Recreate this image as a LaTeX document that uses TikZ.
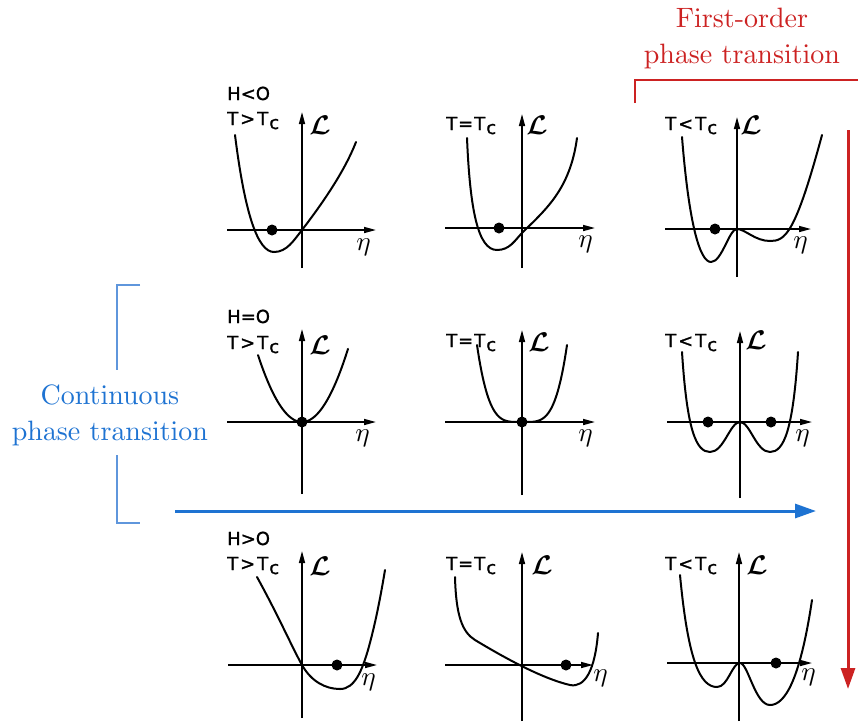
\documentclass[tikz,border=0pt]{standalone}
\usepackage{fontspec}
\newfontfamily\labfont[FakeBold=1.2]{DejaVu Sans}
\usetikzlibrary{arrows.meta}
\font\bigrm=cmr10 at 28pt
\font\calLfont=cmbsy10 at 27pt
\font\etafont=cmmi10 at 27pt
\definecolor{redc}{RGB}{204,34,34}
\definecolor{bluec}{RGB}{30,115,210}
\definecolor{bluel}{RGB}{95,150,220}
\newcommand\Tc{T\kern1pt\raisebox{-4pt}{c}}
\newcommand\Lcal{{\calLfont L}}
\newcommand\etasign{{\etafont\char"11}}
\tikzset{
  axis/.style={line width=1.5pt, -{Triangle[length=12pt,width=6pt]}},
  curve/.style={line width=2pt, line join=round, line cap=round},
  dot/.style={circle, fill=black, inner sep=0pt, minimum size=11pt},
  lab/.style={font=\labfont\fontsize{18}{18}\selectfont, inner sep=0pt, anchor=base west},
  Lsym/.style={inner sep=0pt},
  etasym/.style={inner sep=0pt},
  bigtxt/.style={font={\bigrm\baselineskip=36pt}, align=center, inner sep=0pt},
  thinbr/.style={line width=1.3pt},
  bigarrow/.style={line width=3pt, -{Triangle[length=21pt,width=14pt]}}
}
\begin{document}
\begin{tikzpicture}[x=1pt,y=-1pt]
\path[use as bounding box] (0,0) rectangle (858,721);

% ---------- top-left ----------
\coordinate (tl-hl) at (227,230); \coordinate (tl-hr) at (376,230);
\coordinate (tl-vb) at (302,268); \coordinate (tl-vt) at (302,112);
\draw[axis] (tl-hl) -- (tl-hr);
\draw[axis] (tl-vb) -- (tl-vt);
\draw[curve] (235,135) .. controls (245,215) and (258,252) .. (274,252)
  .. controls (287,252) and (294,240) .. (302,230)
  .. controls (325,200) and (345,170) .. (356,142);
\node[dot] (tl-d) at (272,230) {};
\node[lab] (tl-t1) at (227,100) {H<O};
\node[lab] (tl-t2) at (227,125) {T\kern2pt>\kern2pt\Tc};
\node[Lsym] (tl-L) at (320,125) {\Lcal};
\node[etasym] (tl-e) at (363,247) {\etasign};

% ---------- top-middle ----------
\coordinate (tm-hl) at (445,228); \coordinate (tm-hr) at (595,228);
\coordinate (tm-vb) at (522,268); \coordinate (tm-vt) at (522,114);
\draw[axis] (tm-hl) -- (tm-hr);
\draw[axis] (tm-vb) -- (tm-vt);
\draw[curve] (467,138) .. controls (470,210) and (478,250) .. (497,250)
  .. controls (510,250) and (515,240) .. (522,233)
  .. controls (545,210) and (570,190) .. (577,138);
\node[dot] (tm-d) at (499,228) {};
\node[lab] (tm-t1) at (446,130) {T\kern1pt=\kern1pt\Tc};
\node[Lsym] (tm-L) at (537,125) {\Lcal};
\node[etasym] (tm-e) at (585,244) {\etasign};

% ---------- top-right ----------
\coordinate (tr-hl) at (665,229); \coordinate (tr-hr) at (811,229);
\coordinate (tr-vb) at (737,277); \coordinate (tr-vt) at (737,117);
\draw[axis] (tr-hl) -- (tr-hr);
\draw[axis] (tr-vb) -- (tr-vt);
\draw[curve] (682,137) .. controls (689,225) and (700,262) .. (711,262)
  .. controls (722,262) and (729,229) .. (737,229)
  .. controls (745,229) and (755,241) .. (770,241)
  .. controls (785,241) and (795,235) .. (822,135);
\node[dot] (tr-d) at (715,229) {};
\node[lab] (tr-t1) at (665,130) {T\kern2pt<\kern2pt\Tc};
\node[Lsym] (tr-L) at (751,125) {\Lcal};
\node[etasym] (tr-e) at (800,245) {\etasign};

% ---------- middle-left ----------
\coordinate (ml-hl) at (227,422); \coordinate (ml-hr) at (376,422);
\coordinate (ml-vb) at (302,494); \coordinate (ml-vt) at (302,329);
\draw[axis] (ml-hl) -- (ml-hr);
\draw[axis] (ml-vb) -- (ml-vt);
\draw[curve] plot[domain=-44:46, samples=60] ({302+\x},{422-70*(\x/45)^2});
\node[dot] (ml-d) at (302,422) {};
\node[lab] (ml-t1) at (227,323) {H=O};
\node[lab] (ml-t2) at (227,349) {T\kern2pt>\kern2pt\Tc};
\node[Lsym] (ml-L) at (320,345) {\Lcal};
\node[etasym] (ml-e) at (362,438) {\etasign};

% ---------- middle-middle ----------
\coordinate (mm-hl) at (445,422); \coordinate (mm-hr) at (595,422);
\coordinate (mm-vb) at (522,495); \coordinate (mm-vt) at (522,330);
\draw[axis] (mm-hl) -- (mm-hr);
\draw[axis] (mm-vb) -- (mm-vt);
\draw[curve] plot[domain=-45:45, samples=80] ({522+\x},{422-77*(\x/45)^4});
\node[dot] (mm-d) at (522,422) {};
\node[lab] (mm-t1) at (446,347) {T\kern1pt=\kern1pt\Tc};
\node[Lsym] (mm-L) at (539,342) {\Lcal};
\node[etasym] (mm-e) at (585,438) {\etasign};

% ---------- middle-right ----------
\coordinate (mr-hl) at (667,422); \coordinate (mr-hr) at (812,422);
\coordinate (mr-vb) at (740,498); \coordinate (mr-vt) at (740,331);
\draw[axis] (mr-hl) -- (mr-hr);
\draw[axis] (mr-vb) -- (mr-vt);
\draw[curve] (682,352) .. controls (687,430) and (696,452) .. (710,452)
  .. controls (724,452) and (730,422) .. (740,422)
  .. controls (750,422) and (756,452) .. (770,452)
  .. controls (784,452) and (793,430) .. (798,352);
\node[dot] (mr-d1) at (708,422) {};
\node[dot] (mr-d2) at (771,422) {};
\node[lab] (mr-t1) at (665,347) {T\kern2pt<\kern2pt\Tc};
\node[Lsym] (mr-L) at (756,340) {\Lcal};
\node[etasym] (mr-e) at (802,438) {\etasign};

% ---------- bottom-left ----------
\coordinate (bl-hl) at (228,665); \coordinate (bl-hr) at (377,665);
\coordinate (bl-vb) at (302,718); \coordinate (bl-vt) at (302,551);
\draw[axis] (bl-hl) -- (bl-hr);
\draw[axis] (bl-vb) -- (bl-vt);
\draw[curve] (257,577) .. controls (278,615) and (292,647) .. (302,665)
  .. controls (311,681) and (325,689) .. (340,689)
  .. controls (355,689) and (362,670) .. (368,650)
  .. controls (375,625) and (380,600) .. (385,570);
\node[dot] (bl-d) at (337,665) {};
\node[lab] (bl-t1) at (227,545) {H>O};
\node[lab] (bl-t2) at (227,570) {T\kern2pt>\kern2pt\Tc};
\node[Lsym] (bl-L) at (320,566) {\Lcal};
\node[etasym] (bl-e) at (368,682) {\etasign};

% ---------- bottom-middle ----------
\coordinate (bm-hl) at (445,665); \coordinate (bm-hr) at (593,665);
\coordinate (bm-vb) at (522,721); \coordinate (bm-vt) at (522,552);
\draw[axis] (bm-hl) -- (bm-hr);
\draw[axis] (bm-vb) -- (bm-vt);
\draw[curve] (455,577) .. controls (456,615) and (462,632) .. (475,640)
  .. controls (500,655) and (540,678) .. (570,685)
  .. controls (585,688) and (595,670) .. (598,633);
\node[dot] (bm-d) at (566,665) {};
\node[lab] (bm-t1) at (446,570) {T\kern1pt=\kern1pt\Tc};
\node[Lsym] (bm-L) at (542,565) {\Lcal};
\node[etasym] (bm-e) at (600,678) {\etasign};

% ---------- bottom-right ----------
\coordinate (br-hl) at (667,663); \coordinate (br-hr) at (812,663);
\coordinate (br-vb) at (739,721); \coordinate (br-vt) at (739,552);
\draw[axis] (br-hl) -- (br-hr);
\draw[axis] (br-vb) -- (br-vt);
\draw[curve] (680,575) .. controls (688,660) and (700,687) .. (717,687)
  .. controls (728,687) and (732,663) .. (740,663)
  .. controls (748,663) and (755,705) .. (770,705)
  .. controls (785,705) and (800,680) .. (812,600);
\node[dot] (br-d) at (776,663) {};
\node[lab] (br-t1) at (665,570) {T\kern2pt<\kern2pt\Tc};
\node[Lsym] (br-L) at (757,565) {\Lcal};
\node[etasym] (br-e) at (808,677) {\etasign};

% ---------- first-order (red) ----------
\node[bigtxt, text=redc] (fo) at (742,38) {First-order\\phase transition};
\coordinate (rb1) at (635,103); \coordinate (rb2) at (635,80); \coordinate (rb3) at (858,80);
\draw[thinbr, draw=redc] (rb1) -- (rb2) -- (rb3);
\coordinate (ra1) at (848,130); \coordinate (ra2) at (848,689);
\draw[bigarrow, draw=redc, fill=redc] (ra1) -- (ra2);

% ---------- continuous (blue) ----------
\node[bigtxt, text=bluec] (ct) at (110,416) {Continuous\\phase transition};
\coordinate (bb1) at (140,285); \coordinate (bb2) at (117,285); \coordinate (bb3) at (117,370);
\coordinate (bb4) at (117,455); \coordinate (bb5) at (117,523); \coordinate (bb6) at (140,523);
\draw[thinbr, draw=bluel] (bb1) -- (bb2) -- (bb3);
\draw[thinbr, draw=bluel] (bb4) -- (bb5) -- (bb6);
\coordinate (ba1) at (175,511); \coordinate (ba2) at (816,511);
\draw[bigarrow, draw=bluec, fill=bluec] (ba1) -- (ba2);
\end{tikzpicture}
\end{document}
